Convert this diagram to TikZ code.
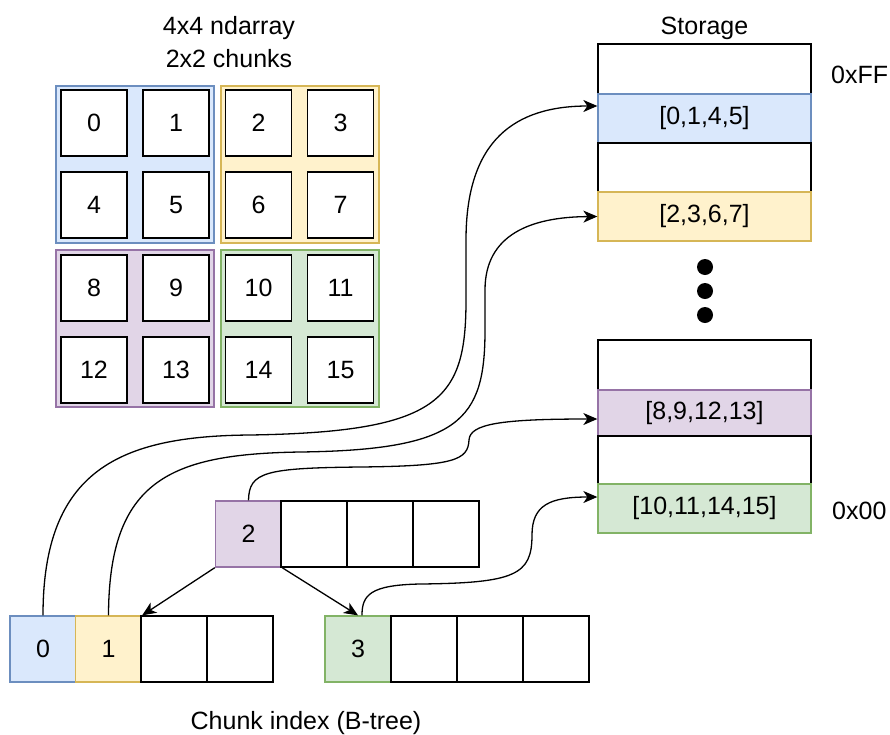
\documentclass[tikz,border=0pt]{standalone}
\usepackage{fontspec}
\setmainfont{Liberation Sans}
\usetikzlibrary{arrows.meta}
\definecolor{bluef}{HTML}{DAE8FC}\definecolor{blued}{HTML}{6C8EBF}
\definecolor{orangef}{HTML}{FFF2CC}\definecolor{oranged}{HTML}{D6B656}
\definecolor{purplef}{HTML}{E1D5E7}\definecolor{purpled}{HTML}{9673A6}
\definecolor{greenf}{HTML}{D5E8D4}\definecolor{greend}{HTML}{82B366}
\begin{document}
\begin{tikzpicture}[x=1pt,y=-1pt,
  font=\fontsize{25}{30}\selectfont,
  cell/.style={draw=black, fill=white, line width=1.3pt, minimum width=66pt, minimum height=66pt, inner sep=0pt},
  chunk/.style={line width=1.3pt, minimum width=158pt, minimum height=157pt, inner sep=0pt},
  srow/.style={draw=black, fill=white, line width=1.3pt, minimum width=213pt, inner sep=0pt},
  cblue/.style={draw=blued, fill=bluef},
  corange/.style={draw=oranged, fill=orangef},
  cpurple/.style={draw=purpled, fill=purplef},
  cgreen/.style={draw=greend, fill=greenf},
  conn/.style={line width=1.3pt, -{Stealth[length=14pt,width=12pt,inset=4pt]}},
  lbl/.style={inner sep=0pt, anchor=base}
]
\useasboundingbox (0,0) rectangle (890,734);

% titles
\node[lbl] (t1) at (229,34) {4x4 ndarray};
\node[lbl] (t2) at (229,67) {2x2 chunks};
\node[lbl] (st) at (704.5,34) {Storage};
\node[lbl, anchor=base west] (ff) at (831,83) {0xFF};
\node[lbl, anchor=base west] (zz) at (832,519) {0x00};
\node[lbl] (cap) at (306,729) {Chunk index (B-tree)};

% chunks of the ndarray
\node[chunk, cblue] (kb) at (135,164.5) {};
\node[chunk, corange] (ko) at (300,164.5) {};
\node[chunk, cpurple] (kp) at (135,328.5) {};
\node[chunk, cgreen] (kg) at (300,328.5) {};

\foreach \n/\cx/\cy in {0/94/123,1/176/123,2/258.5/123,3/340.5/123,
                        4/94/205,5/176/205,6/258.5/205,7/340.5/205,
                        8/94/288,9/176/288,10/258.5/288,11/340.5/288,
                        12/94/370,13/176/370,14/258.5/370,15/340.5/370}
  \node[cell] (g\n) at (\cx,\cy) {\n};

% storage
\node[srow, minimum height=50pt] (s0) at (704.5,69) {};
\node[srow, cblue, minimum height=49pt] (s1) at (704.5,118.5) {[0,1,4,5]};
\node[srow, minimum height=49pt] (s2) at (704.5,167.5) {};
\node[srow, corange, minimum height=49pt] (s3) at (704.5,216.5) {[2,3,6,7]};
\node[srow, minimum height=50pt] (s4) at (704.5,365) {};
\node[srow, cpurple, minimum height=46pt] (s5) at (704.5,413) {[8,9,12,13]};
\node[srow, minimum height=48pt] (s6) at (704.5,460) {};
\node[srow, cgreen, minimum height=49pt] (s7) at (704.5,508.5) {[10,11,14,15]};

\fill (705,267) circle (8);
\fill (705,291) circle (8);
\fill (705,315) circle (8);

% B-tree
\node[cell, cpurple] (t0) at (248.5,534) {2};
\node[cell] (ta) at (314,534) {};
\node[cell] (tb) at (380,534) {};
\node[cell] (tc) at (446,534) {};

\node[cell, cblue] (l0) at (43,649) {0};
\node[cell, corange] (l1) at (108.5,649) {1};
\node[cell] (l2) at (174,649) {};
\node[cell] (l3) at (240,649) {};

\node[cell, cgreen] (r0) at (358,649) {3};
\node[cell] (r1) at (424,649) {};
\node[cell] (r2) at (490,649) {};
\node[cell] (r3) at (556,649) {};

\draw[conn] (t0.south west) -- (l1.north east);
\draw[conn] (t0.south east) -- (r0.north);

\draw[conn] (l0.north) .. controls (43,470) and (120,436) .. (250,435)
  .. controls (440,432) and (466,400) .. (466,300) -- (466,240)
  .. controls (466,140) and (515,106) .. ([yshift=12.5pt]s1.west);
\draw[conn] (l1.north) .. controls (109,480) and (170,454) .. (300,452)
  .. controls (460,450) and (485,420) .. (485,330) -- (485,290)
  .. controls (485,235) and (530,217) .. (s3.west);
\draw[conn] (t0.north) .. controls (249,472) and (265,468) .. (360,467)
  .. controls (455,466) and (468,460) .. (469,440)
  .. controls (470,424) and (500,419) .. ([yshift=-6pt]s5.west);
\draw[conn] ([xshift=4pt]r0.north) .. controls (362,595) and (370,585) .. (420,584)
  .. controls (515,583) and (532,575) .. (532,535)
  .. controls (532,505) and (550,497) .. ([yshift=11.5pt]s7.west);
\end{tikzpicture}
\end{document}
